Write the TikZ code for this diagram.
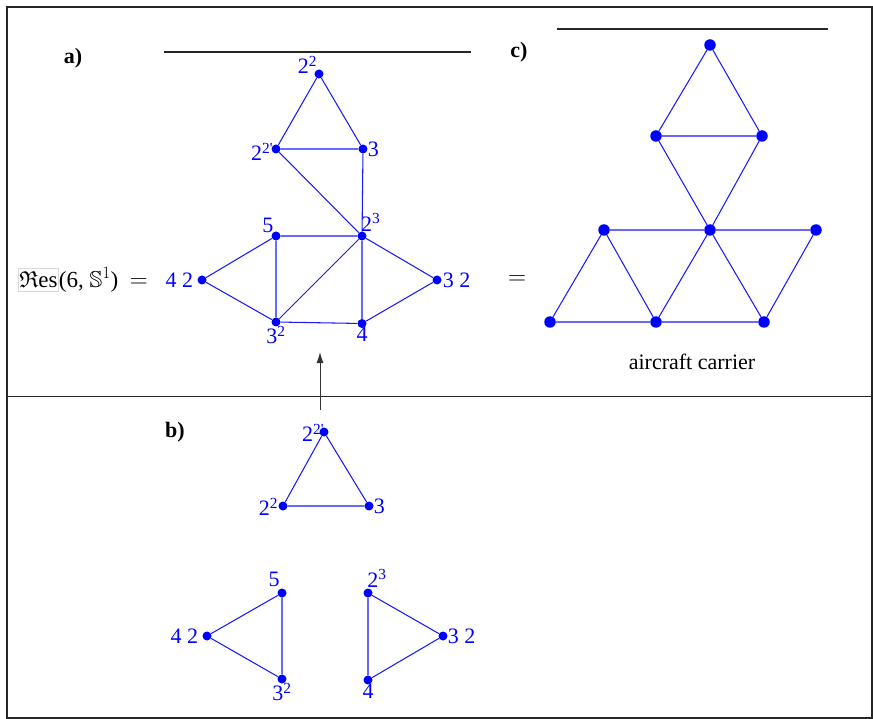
\documentclass[tikz,border=0pt]{standalone}
\usepackage{amssymb}
\usepackage{fontspec}
\setmainfont{Liberation Serif}
\usetikzlibrary{arrows.meta}
\begin{document}
\begin{tikzpicture}[x=1pt,y=-1pt,
  dot/.style={circle,fill=blue,inner sep=0pt,minimum size=9pt},
  bigdot/.style={circle,fill=blue,inner sep=0pt,minimum size=11.5pt},
  edge/.style={blue!90!white,line width=1.05pt},
  lab/.style={text=blue,font=\fontsize{22}{24}\selectfont,inner sep=1pt},
  txt/.style={font=\fontsize{22}{24}\selectfont,inner sep=0pt},
  rule/.style={line width=1.6pt,black!85}]
\useasboundingbox (0,0) rectangle (873,719);
\draw[line width=1.6pt,black!85] (7,7) rectangle (872.2,718);
\draw[line width=1.6pt,black!85] (7,396.5) -- (872.2,396.5);
\coordinate (ra1) at (164,52); \coordinate (ra2) at (471,52);
\draw[rule] (ra1) -- (ra2);
\coordinate (rc1) at (557,29); \coordinate (rc2) at (828,29);
\draw[rule] (rc1) -- (rc2);
\node[txt,font=\fontsize{22}{24}\selectfont\bfseries] (la) at (73,58) {a)};
\node[txt,font=\fontsize{22}{24}\selectfont\bfseries] (lc) at (519,52) {c)};
\node[txt,font=\fontsize{22}{24}\selectfont\bfseries] (lb) at (175,432) {b)};
% a) graph
\node[dot] (a22) at (319,74) {};
\node[dot] (a22p) at (276,149) {};
\node[dot] (a3) at (363,149) {};
\node[dot] (a23) at (362,236) {};
\node[dot] (a5) at (276,236) {};
\node[dot] (a42) at (202,280) {};
\node[dot] (a32) at (437,280) {};
\node[dot] (a3s) at (276,322) {};
\node[dot] (a4) at (362,323.5) {};
\draw[edge] (a22)--(a22p) (a22)--(a3) (a22p)--(a3) (a22p)--(a23) (a3)--(a23)
  (a5)--(a23) (a5)--(a42) (a5)--(a3s) (a42)--(a3s) (a3s)--(a23) (a3s)--(a4)
  (a23)--(a4) (a23)--(a32) (a32)--(a4);
\node[lab,anchor=south east] (ta22) at ([xshift=4pt,yshift=-1pt]a22.west) {2\textsuperscript{2}};
\node[lab,anchor=east] (ta22p) at ([xshift=3pt,yshift=-3pt]a22p.west) {2\textsuperscript{2\textquotesingle}};
\node[lab,anchor=west] (ta3) at ([xshift=-1pt]a3.east) {3};
\node[lab,anchor=south east] (ta5) at ([xshift=2pt,yshift=-1pt]a5.north west) {5};
\node[lab,anchor=south west] (ta23) at ([xshift=-2pt,yshift=-1pt]a23.north) {2\textsuperscript{3}};
\node[lab,anchor=east] (ta42) at ([xshift=-3pt]a42.west) {4 2};
\node[lab,anchor=west] (ta32) at ([xshift=0pt]a32.east) {3 2};
\node[lab,anchor=north] (ta3s) at ([yshift=2pt]a3s.south) {3\textsuperscript{2}};
\node[lab,anchor=north] (ta4) at ([yshift=2pt]a4.south) {4};
\node[txt,anchor=east,font=\fontsize{23}{25}\selectfont] (res) at (148,280) {\fcolorbox{black!15}{white}{\kern-2pt$\mathfrak{R}$es\kern-2pt}(6, $\mathbb{S}^1$)\ \ $=$};
% arrow
\coordinate (arrB) at (320,410);
\coordinate (arrT) at (320,352);
\draw[-{Latex[length=11pt,width=7pt]},line width=1pt,black!80] (arrB) -- (arrT);
% c) graph
\node[bigdot] (ct) at (710,45) {};
\node[bigdot] (cl) at (656,136) {};
\node[bigdot] (cr) at (762,136) {};
\node[bigdot] (cc) at (710,230) {};
\node[bigdot] (cml) at (604,230) {};
\node[bigdot] (cmr) at (816,230) {};
\node[bigdot] (cb1) at (550,322) {};
\node[bigdot] (cb2) at (656,322) {};
\node[bigdot] (cb3) at (764,322) {};
\draw[edge] (ct)--(cl) (ct)--(cr) (cl)--(cr) (cl)--(cc) (cr)--(cc)
  (cml)--(cc) (cc)--(cmr) (cml)--(cb1) (cml)--(cb2) (cc)--(cb2) (cc)--(cb3)
  (cmr)--(cb3) (cb1)--(cb2) (cb2)--(cb3);
\node[txt,font=\fontsize{23}{25}\selectfont] (eq) at (517,280) {$=$};
\node[txt] (ac) at (692,362) {aircraft carrier};
% b) graphs
\node[dot] (b22p) at (324,432) {};
\node[dot] (b22) at (283,506) {};
\node[dot] (b3) at (369,506) {};
\draw[edge] (b22p)--(b22) (b22p)--(b3) (b22)--(b3);
\node[lab,anchor=east] (tb22p) at ([xshift=6pt,yshift=-1pt]b22p.west) {2\textsuperscript{2\textquotesingle}};
\node[lab,anchor=east] (tb22) at ([xshift=1pt,yshift=-1pt]b22.west) {2\textsuperscript{2}};
\node[lab,anchor=west] (tb3) at ([xshift=-1pt]b3.east) {3};
\node[dot] (b5) at (282,593) {};
\node[dot] (b42) at (207,636) {};
\node[dot] (b3s) at (282,679) {};
\draw[edge] (b5)--(b42) (b5)--(b3s) (b42)--(b3s);
\node[lab,anchor=south] (tb5) at ([xshift=-8pt,yshift=0pt]b5.north) {5};
\node[lab,anchor=east] (tb42) at ([xshift=-3pt]b42.west) {4 2};
\node[lab,anchor=north] (tb3s) at ([yshift=2pt]b3s.south) {3\textsuperscript{2}};
\node[dot] (b23) at (368,593) {};
\node[dot] (b32) at (443,636) {};
\node[dot] (b4) at (368,680) {};
\draw[edge] (b23)--(b32) (b23)--(b4) (b32)--(b4);
\node[lab,anchor=south] (tb23) at ([xshift=9pt,yshift=0pt]b23.north) {2\textsuperscript{3}};
\node[lab,anchor=west] (tb32) at ([xshift=-1pt]b32.east) {3 2};
\node[lab,anchor=north] (tb4) at ([yshift=2pt]b4.south) {4};
\end{tikzpicture}
\end{document}
